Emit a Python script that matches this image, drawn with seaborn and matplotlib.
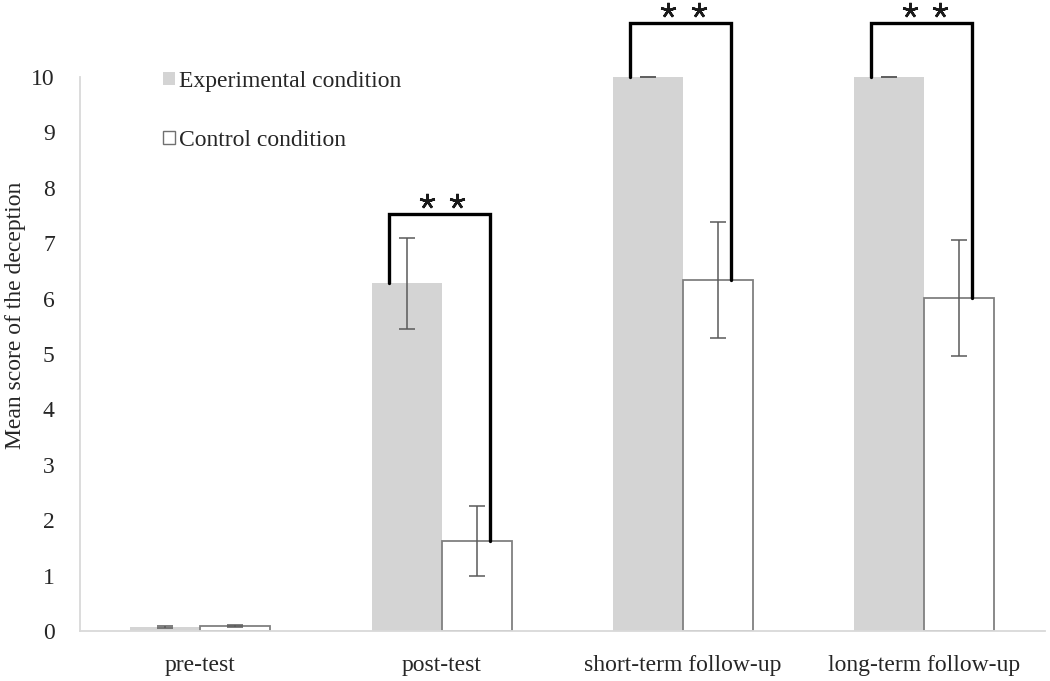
import matplotlib
matplotlib.use("Agg")
import matplotlib.pyplot as plt
from matplotlib.patches import Patch
import seaborn as sns
import pandas as pd

sns.set_theme(style="white")
plt.rcParams["font.family"] = ["Liberation Serif", "DejaVu Serif"]

phases = ["pre-test", "post-test", "short-term follow-up", "long-term follow-up"]
conditions = ["Experimental condition", "Control condition"]
exp_means = [0.07, 6.28, 10.0, 10.0]
exp_errs = [0.02, 0.82, 0.0, 0.0]
ctrl_means = [0.09, 1.63, 6.34, 6.01]
ctrl_errs = [0.02, 0.63, 1.05, 1.05]
# significance brackets: (phase index, bracket top)
sig_phases = [1, 2, 3]
sig_tops = [7.53, 10.97, 10.97]

df = pd.DataFrame({
    "phase": phases * 2,
    "condition": [conditions[0]] * 4 + [conditions[1]] * 4,
    "score": exp_means + ctrl_means,
})

fig = plt.figure(figsize=(10.5, 6.81), dpi=100)
ax = fig.add_axes([0.076, 0.0734, 0.919, 0.9266])

sns.barplot(data=df, x="phase", y="score", hue="condition", order=phases,
            hue_order=conditions, palette=["#d4d4d4", "white"], width=0.58,
            errorbar=None, legend=False, ax=ax)

exp_bars, ctrl_bars = ax.containers[0], ax.containers[1]
for p in exp_bars:
    p.set_edgecolor("none")
for p in ctrl_bars:
    p.set_edgecolor("#808080")
    p.set_linewidth(1.3)

for bars, means, errs in [(exp_bars, exp_means, exp_errs), (ctrl_bars, ctrl_means, ctrl_errs)]:
    xs = [p.get_x() + p.get_width() / 2 for p in bars]
    ax.errorbar(xs, means, yerr=errs, fmt="none", ecolor="#5a5a5a",
                elinewidth=1.1, capsize=6, capthick=1.1, zorder=3)

# brackets with stars
for i, top in zip(sig_phases, sig_tops):
    xl, xr = i - 0.22, i + 0.20
    ax.plot([xl, xl, xr, xr], [exp_means[i], top, top, ctrl_means[i]],
            color="black", lw=2.4, solid_joinstyle="miter", zorder=4,
            clip_on=False)
    ax.plot([i - 0.06, i + 0.065], [top + 0.24] * 2, ls="none",
            marker=(5, 2, 0), ms=11, mew=1.8, color="#1a1a1a", clip_on=False)

ax.set_xlim(-0.5, 3.5)
ax.set_ylim(0, 11.39)
ax.set_yticks(range(0, 11))
ax.set_xlabel("")
ax.set_ylabel("Mean score of the deception", fontsize=17, color="#262626")
ax.tick_params(axis="both", labelsize=17, colors="#262626", length=0)
ax.tick_params(axis="y", pad=18)
ax.tick_params(axis="x", pad=17)
for s in ["top", "right"]:
    ax.spines[s].set_visible(False)
for s in ["left", "bottom"]:
    ax.spines[s].set_color("#d9d9d9")
    ax.spines[s].set_linewidth(1.3)
ax.spines["left"].set_bounds(0, 10)

handles = [Patch(facecolor="#d4d4d4", edgecolor="none"),
           Patch(facecolor="white", edgecolor="#707070", linewidth=1.0)]
ax.legend(handles, conditions, loc="upper left", bbox_to_anchor=(0.072, 0.91),
          frameon=False, fontsize=17, handlelength=0.5, handleheight=0.5,
          handletextpad=0.15, labelspacing=1.6, borderaxespad=0.2)

fig.savefig("out.png", dpi=100)
